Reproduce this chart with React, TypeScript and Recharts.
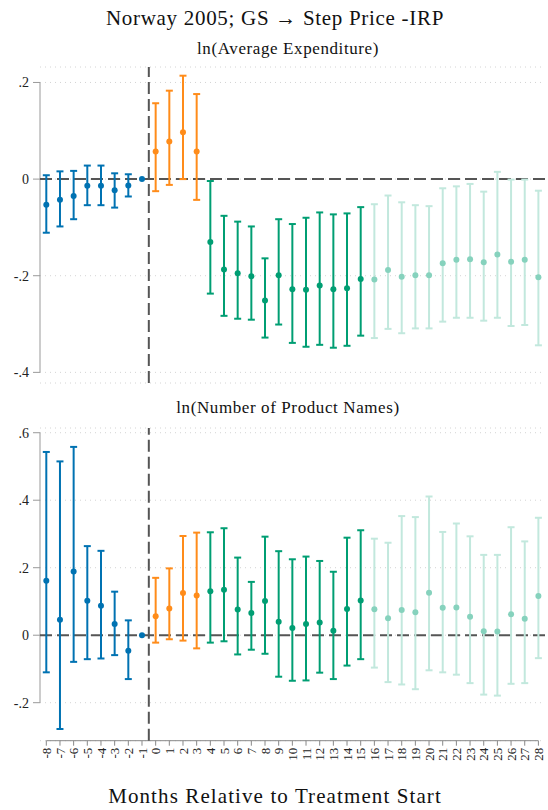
import React from 'react';
import {
  ComposedChart,
  Scatter,
  ErrorBar,
  XAxis,
  YAxis,
  CartesianGrid,
  ReferenceLine,
} from 'recharts';

// Event time (months relative to treatment start)
const months = [
  -8, -7, -6, -5, -4, -3, -2, -1, 0, 1, 2, 3, 4, 5, 6, 7, 8, 9, 10, 11, 12, 13, 14,
  15, 16, 17, 18, 19, 20, 21, 22, 23, 24, 25, 26, 27, 28,
];

// ln(Average Expenditure): point estimates and 95% CI bounds (reference month -1 has no CI)
const expCoef = [
  -0.053, -0.043, -0.035, -0.014, -0.014, -0.023, -0.013, 0,
  0.057, 0.078, 0.097, 0.057,
  -0.13, -0.187, -0.195, -0.201, -0.251, -0.199, -0.228, -0.229, -0.22, -0.228, -0.226, -0.207,
  -0.208, -0.188, -0.202, -0.199, -0.199, -0.174, -0.167, -0.166, -0.172, -0.156, -0.171, -0.167, -0.203,
];
const expLo = [
  -0.111, -0.098, -0.083, -0.054, -0.054, -0.059, -0.036, null,
  -0.025, -0.012, 0.0, -0.043,
  -0.237, -0.283, -0.289, -0.291, -0.328, -0.301, -0.339, -0.347, -0.343, -0.349, -0.345, -0.324,
  -0.329, -0.31, -0.319, -0.309, -0.309, -0.295, -0.287, -0.287, -0.293, -0.287, -0.304, -0.302, -0.344,
];
const expHi = [
  0.008, 0.016, 0.017, 0.028, 0.028, 0.012, 0.01, null,
  0.157, 0.183, 0.214, 0.176,
  -0.004, -0.076, -0.088, -0.098, -0.164, -0.083, -0.093, -0.08, -0.069, -0.073, -0.071, -0.058,
  -0.052, -0.034, -0.048, -0.054, -0.056, -0.019, -0.015, -0.01, -0.026, 0.015, -0.001, -0.001, -0.024,
];

// ln(Number of Product Names): point estimates and 95% CI bounds
const namesCoef = [
  0.161, 0.046, 0.189, 0.102, 0.087, 0.033, -0.046, 0,
  0.056, 0.079, 0.125, 0.118,
  0.13, 0.135, 0.076, 0.066, 0.101, 0.04, 0.021, 0.033, 0.038, 0.013, 0.078, 0.103,
  0.077, 0.05, 0.075, 0.068, 0.126, 0.081, 0.082, 0.055, 0.012, 0.011, 0.062, 0.049, 0.116,
];
const namesLo = [
  -0.11, -0.278, -0.079, -0.071, -0.069, -0.059, -0.13, null,
  -0.022, -0.012, -0.016, -0.039,
  -0.022, -0.018, -0.057, -0.043, -0.055, -0.123, -0.135, -0.134, -0.111, -0.13, -0.09, -0.071,
  -0.096, -0.139, -0.146, -0.16, -0.104, -0.11, -0.117, -0.142, -0.176, -0.179, -0.144, -0.142, -0.068,
];
const namesHi = [
  0.543, 0.515, 0.558, 0.264, 0.25, 0.129, 0.044, null,
  0.17, 0.198, 0.294, 0.304,
  0.305, 0.317, 0.23, 0.158, 0.292, 0.249, 0.225, 0.233, 0.22, 0.188, 0.289, 0.311,
  0.286, 0.274, 0.353, 0.35, 0.411, 0.306, 0.331, 0.293, 0.238, 0.238, 0.32, 0.278, 0.348,
];

const topTicks = [-0.4, -0.2, 0, 0.2];
const bottomTicks = [-0.2, 0, 0.2, 0.4, 0.6];

const FONT = 'Liberation Serif, DejaVu Serif, serif';
const X_DOMAIN: [number, number] = [-8.461, 28.483];

// Period groups: pre-treatment, first months, main post period, late months
const groups = [
  { key: 'pre', from: -8, to: -1, bar: '#0072B2', dot: '#0072B2' },
  { key: 'early', from: 0, to: 3, bar: '#FF8C1A', dot: '#FF8C1A' },
  { key: 'mid', from: 4, to: 15, bar: '#009E73', dot: '#009E73' },
  { key: 'late', from: 16, to: 28, bar: '#C2E8DD', dot: '#86D2BD' },
];

type Row = { month: number; coef: number; err: [number, number] | null };

const buildRows = (coef: number[], lo: (number | null)[], hi: (number | null)[]): Row[] =>
  months.map((m, i) => ({
    month: m,
    coef: coef[i],
    err: lo[i] == null || hi[i] == null ? null : [coef[i] - (lo[i] as number), (hi[i] as number) - coef[i]],
  }));

const expRows = buildRows(expCoef, expLo, expHi);
const namesRows = buildRows(namesCoef, namesLo, namesHi);

const fmt = (v: number) => {
  if (v === 0) return '0';
  const s = Math.abs(v).toFixed(1).replace(/^0/, '');
  return v < 0 ? '-' + s : s;
};

const Dot = (color: string) => (props: any) =>
  props.cx == null ? null : <circle cx={props.cx} cy={props.cy} r={3} fill={color} />;

const RotTick = (props: any) => {
  const { x, y, payload } = props;
  return (
    <text
      x={x}
      y={y}
      transform={`rotate(-90 ${x} ${y})`}
      textAnchor="end"
      dy="0.35em"
      style={{ fontSize: 13, fontFamily: FONT }}
      fill="#222"
    >
      {payload.value}
    </text>
  );
};

const refStyle = { stroke: '#555', strokeWidth: 2, strokeDasharray: '12 5' };

const renderSeries = (rows: Row[]) =>
  groups.map((g) => (
    <Scatter
      key={g.key}
      data={rows.filter((r) => r.month >= g.from && r.month <= g.to)}
      isAnimationActive={false}
      shape={Dot(g.dot)}
    >
      <ErrorBar dataKey="err" direction="y" width={3.5} strokeWidth={2} stroke={g.bar} />
    </Scatter>
  ));

const txt = (size: number, spacing: number) => ({
  fontSize: size,
  fontFamily: FONT,
  letterSpacing: spacing,
});

export default function App() {
  return (
    <div style={{ position: 'absolute', left: 0, top: 0, width: 548, height: 810, background: '#fff' }}>
      <svg
        width={548}
        height={810}
        style={{ position: 'absolute', left: 0, top: 0, pointerEvents: 'none' }}
      >
        <text x={275} y={25} textAnchor="middle" style={txt(21, 0.7)} fill="#111">
          Norway 2005; GS → Step Price -IRP
        </text>
        <text x={288} y={54} textAnchor="middle" style={txt(17, 0.6)} fill="#111">
          ln(Average Expenditure)
        </text>
        <text x={288} y={413} textAnchor="middle" style={txt(17, 0.6)} fill="#111">
          ln(Number of Product Names)
        </text>
        <text x={275} y={803} textAnchor="middle" style={txt(21, 1.1)} fill="#111">
          Months Relative to Treatment Start
        </text>
      </svg>

      {/* Top panel: ln(Average Expenditure) */}
      <div style={{ position: 'absolute', left: 0, top: 0 }}>
        <ComposedChart width={548} height={390} margin={{ top: 67, right: 3, bottom: 7, left: 0 }}>
          <CartesianGrid vertical={false} stroke="#d4d4d4" strokeDasharray="1 4" />
          <XAxis dataKey="month" type="number" domain={X_DOMAIN} allowDataOverflow hide />
          <YAxis
            dataKey="coef"
            type="number"
            domain={[-0.422, 0.232]}
            allowDataOverflow
            ticks={topTicks}
            tickFormatter={fmt}
            width={40}
            axisLine={false}
            tickSize={7}
            tickMargin={4}
            tickLine={{ stroke: '#999' }}
            tick={{ fontSize: 14, fontFamily: FONT, fill: '#222' }}
          />
          <ReferenceLine
            segment={[{ x: X_DOMAIN[0], y: 0.2 }, { x: X_DOMAIN[0], y: -0.4 }]}
            stroke="#999"
            ifOverflow="visible"
          />
          <ReferenceLine y={0} {...refStyle} />
          <ReferenceLine x={-0.5} {...refStyle} />
          {renderSeries(expRows)}
        </ComposedChart>
      </div>

      {/* Bottom panel: ln(Number of Product Names) */}
      <div style={{ position: 'absolute', left: 0, top: 390 }}>
        <ComposedChart width={548} height={420} margin={{ top: 38, right: 3, bottom: 0, left: 0 }}>
          <CartesianGrid vertical={false} stroke="#d4d4d4" strokeDasharray="1 4" />
          <XAxis
            dataKey="month"
            type="number"
            domain={X_DOMAIN}
            allowDataOverflow
            ticks={months}
            interval={0}
            height={69.3}
            axisLine={false}
            tickSize={5}
            tickMargin={2}
            tickLine={{ stroke: '#888' }}
            tick={<RotTick />}
          />
          <YAxis
            dataKey="coef"
            type="number"
            domain={[-0.3126, 0.614]}
            allowDataOverflow
            ticks={bottomTicks}
            tickFormatter={fmt}
            width={40}
            axisLine={false}
            tickSize={7}
            tickMargin={4}
            tickLine={{ stroke: '#999' }}
            tick={{ fontSize: 14, fontFamily: FONT, fill: '#222' }}
          />
          <ReferenceLine
            segment={[{ x: X_DOMAIN[0], y: 0.6 }, { x: X_DOMAIN[0], y: -0.2 }]}
            stroke="#999"
            ifOverflow="visible"
          />
          <ReferenceLine
            segment={[{ x: -8, y: -0.3126 }, { x: 28, y: -0.3126 }]}
            stroke="#888"
            ifOverflow="visible"
          />
          <ReferenceLine y={0} {...refStyle} />
          <ReferenceLine x={-0.5} {...refStyle} />
          {renderSeries(namesRows)}
        </ComposedChart>
      </div>
    </div>
  );
}
